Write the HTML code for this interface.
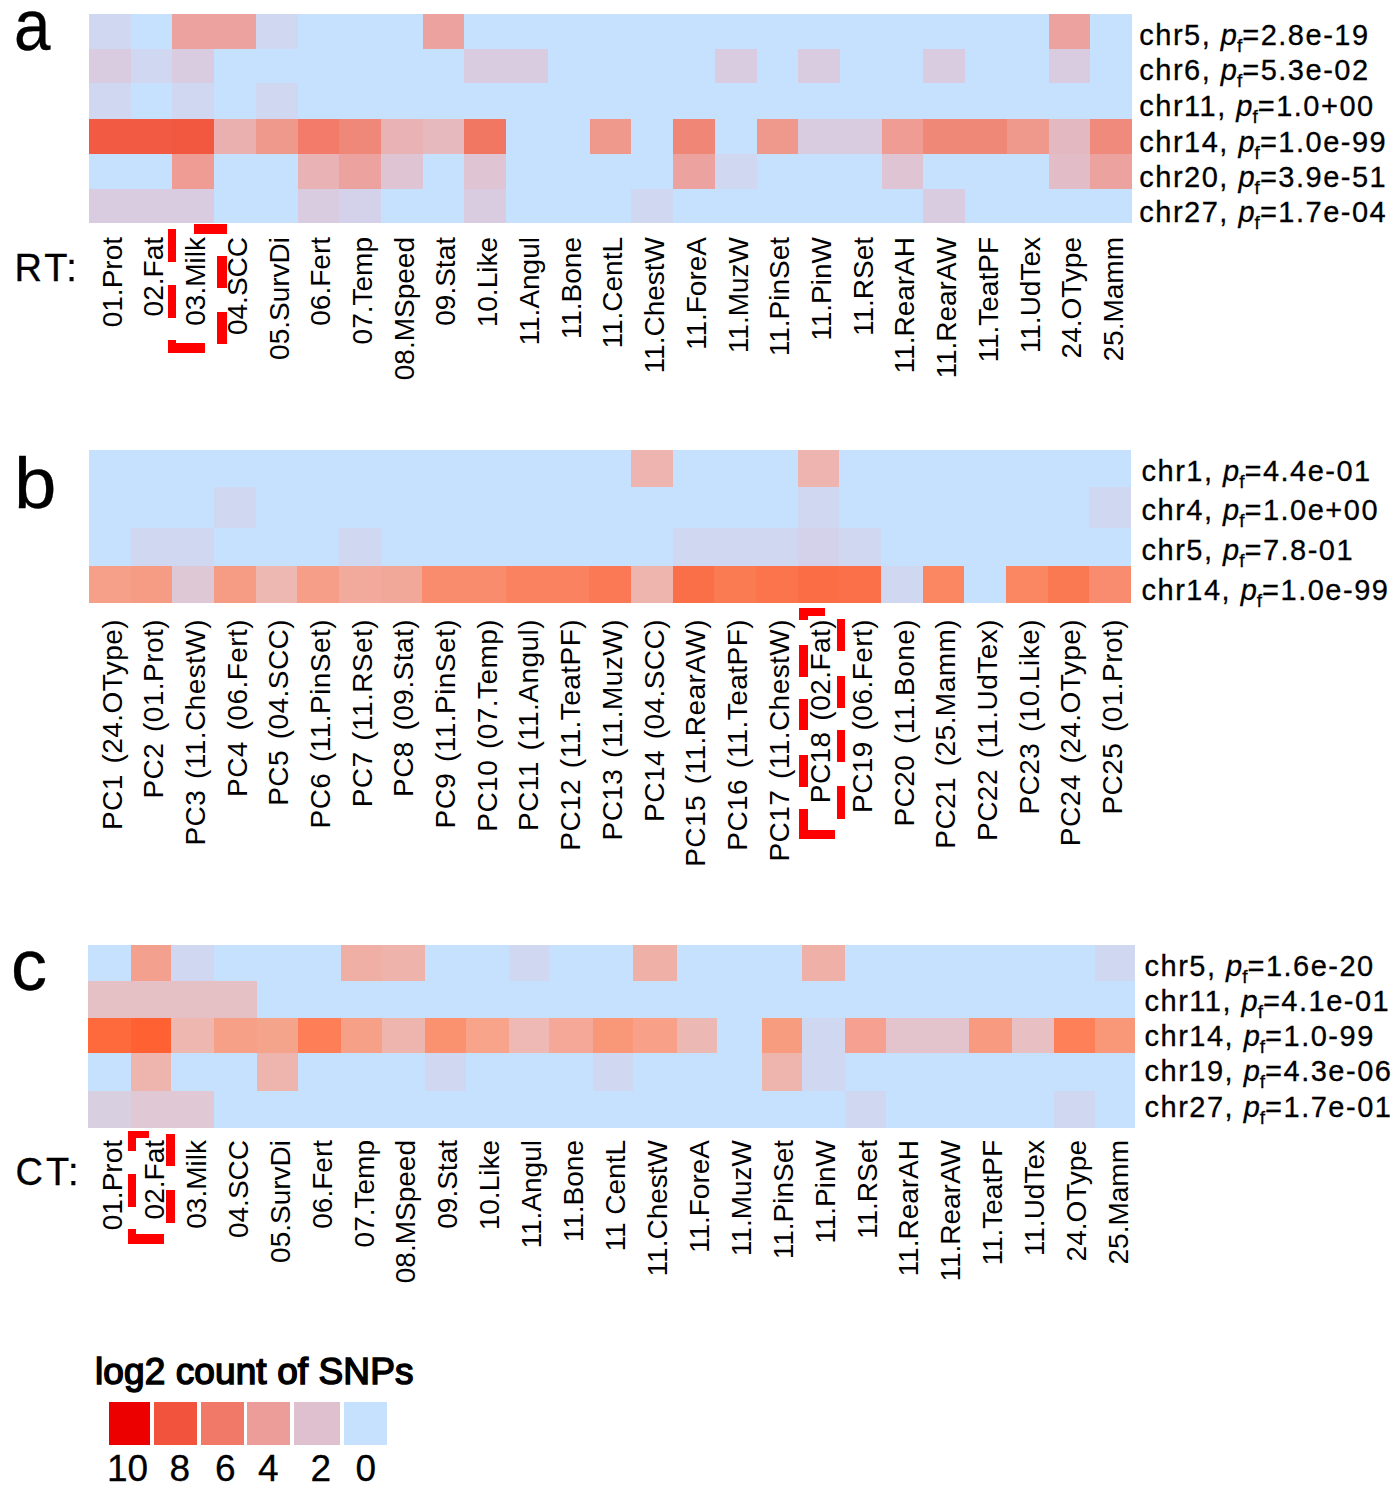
<!DOCTYPE html>
<html><head><meta charset="utf-8"><style>
html,body{margin:0;padding:0;background:#fff;}
body{width:1395px;height:1491px;position:relative;overflow:hidden;font-family:"Liberation Sans",sans-serif;color:#000;}
.c{position:absolute;}
.r,.lab,.ln{-webkit-text-stroke:0.3px #000;}
.big{-webkit-text-stroke:0.3px #000;}
.d{position:absolute;background:#FF0000;}
.v{position:absolute;width:400px;height:28px;line-height:28px;font-size:28px;text-align:right;white-space:nowrap;transform-origin:0 0;transform:rotate(-90deg);}
.r{position:absolute;font-size:29px;line-height:32px;white-space:nowrap;letter-spacing:1.5px;}
.r i{font-style:italic;letter-spacing:0;}
.r .s{font-size:19px;position:relative;top:7px;letter-spacing:0;}
.vb{letter-spacing:0.45px;word-spacing:2.5px;}
.big{position:absolute;font-size:72px;line-height:72px;}
.lab{position:absolute;font-size:38px;line-height:38px;letter-spacing:3px;}
.lt{position:absolute;font-size:37px;line-height:37px;font-weight:normal;-webkit-text-stroke:1.5px #000;letter-spacing:0.1px;}
.ln{position:absolute;font-size:37px;line-height:37px;}
</style></head><body>
<div class="big" style="left:14px;top:-11px;transform:scaleX(0.91);transform-origin:0 0">a</div>
<div class="big" style="left:13.8px;top:447px;transform:scaleX(1.06);transform-origin:0 0">b</div>
<div class="big" style="left:11px;top:929px">c</div>
<div class="lab" style="left:14.5px;top:249px">RT:</div>
<div class="lab" style="left:15.5px;top:1152.5px">CT:</div>
<div class="c" style="left:89px;top:14px;width:1043px;height:209px;background:#C5E1FD"></div>
<div class="c" style="left:89px;top:14px;width:42px;height:35px;background:#CFD7F1"></div>
<div class="c" style="left:172px;top:14px;width:42px;height:35px;background:#ECA3A0"></div>
<div class="c" style="left:214px;top:14px;width:42px;height:35px;background:#ECA3A0"></div>
<div class="c" style="left:256px;top:14px;width:42px;height:35px;background:#CFD7F1"></div>
<div class="c" style="left:423px;top:14px;width:41px;height:35px;background:#ECA3A0"></div>
<div class="c" style="left:1049px;top:14px;width:41px;height:35px;background:#ECA3A0"></div>
<div class="c" style="left:89px;top:49px;width:42px;height:34px;background:#D9CCE0"></div>
<div class="c" style="left:131px;top:49px;width:41px;height:34px;background:#CFD7F1"></div>
<div class="c" style="left:172px;top:49px;width:42px;height:34px;background:#D9CCE0"></div>
<div class="c" style="left:464px;top:49px;width:42px;height:34px;background:#D9CCE0"></div>
<div class="c" style="left:506px;top:49px;width:42px;height:34px;background:#D9CCE0"></div>
<div class="c" style="left:715px;top:49px;width:42px;height:34px;background:#D9CCE0"></div>
<div class="c" style="left:798px;top:49px;width:42px;height:34px;background:#D9CCE0"></div>
<div class="c" style="left:923px;top:49px;width:42px;height:34px;background:#D9CCE0"></div>
<div class="c" style="left:1049px;top:49px;width:41px;height:34px;background:#D9CCE0"></div>
<div class="c" style="left:89px;top:83px;width:42px;height:36px;background:#CFD7F1"></div>
<div class="c" style="left:172px;top:83px;width:42px;height:36px;background:#CFD7F1"></div>
<div class="c" style="left:256px;top:83px;width:42px;height:36px;background:#CFD7F1"></div>
<div class="c" style="left:89px;top:119px;width:42px;height:35px;background:#F25A44"></div>
<div class="c" style="left:131px;top:119px;width:41px;height:35px;background:#F25A44"></div>
<div class="c" style="left:172px;top:119px;width:42px;height:35px;background:#F25740"></div>
<div class="c" style="left:214px;top:119px;width:42px;height:35px;background:#EAB0B0"></div>
<div class="c" style="left:256px;top:119px;width:42px;height:35px;background:#EF998D"></div>
<div class="c" style="left:298px;top:119px;width:41px;height:35px;background:#F27B6A"></div>
<div class="c" style="left:339px;top:119px;width:42px;height:35px;background:#F0887A"></div>
<div class="c" style="left:381px;top:119px;width:42px;height:35px;background:#E9B2B4"></div>
<div class="c" style="left:423px;top:119px;width:41px;height:35px;background:#E6B9BF"></div>
<div class="c" style="left:464px;top:119px;width:42px;height:35px;background:#F27763"></div>
<div class="c" style="left:590px;top:119px;width:41px;height:35px;background:#EF998D"></div>
<div class="c" style="left:673px;top:119px;width:42px;height:35px;background:#F08676"></div>
<div class="c" style="left:757px;top:119px;width:41px;height:35px;background:#EF998D"></div>
<div class="c" style="left:798px;top:119px;width:42px;height:35px;background:#D9CCE0"></div>
<div class="c" style="left:840px;top:119px;width:42px;height:35px;background:#D9CCE0"></div>
<div class="c" style="left:882px;top:119px;width:41px;height:35px;background:#EE9C94"></div>
<div class="c" style="left:923px;top:119px;width:42px;height:35px;background:#F08878"></div>
<div class="c" style="left:965px;top:119px;width:42px;height:35px;background:#F08878"></div>
<div class="c" style="left:1007px;top:119px;width:42px;height:35px;background:#EF998D"></div>
<div class="c" style="left:1049px;top:119px;width:41px;height:35px;background:#E4B8C0"></div>
<div class="c" style="left:1090px;top:119px;width:42px;height:35px;background:#F08A7C"></div>
<div class="c" style="left:172px;top:154px;width:42px;height:35px;background:#EE9C94"></div>
<div class="c" style="left:298px;top:154px;width:41px;height:35px;background:#E9B2B4"></div>
<div class="c" style="left:339px;top:154px;width:42px;height:35px;background:#ECA3A0"></div>
<div class="c" style="left:381px;top:154px;width:42px;height:35px;background:#DFC4D3"></div>
<div class="c" style="left:464px;top:154px;width:42px;height:35px;background:#DFC4D3"></div>
<div class="c" style="left:673px;top:154px;width:42px;height:35px;background:#ECA3A0"></div>
<div class="c" style="left:715px;top:154px;width:42px;height:35px;background:#CFD7F1"></div>
<div class="c" style="left:882px;top:154px;width:41px;height:35px;background:#DFC4D3"></div>
<div class="c" style="left:1049px;top:154px;width:41px;height:35px;background:#E2BCC6"></div>
<div class="c" style="left:1090px;top:154px;width:42px;height:35px;background:#ECA3A0"></div>
<div class="c" style="left:89px;top:189px;width:42px;height:34px;background:#D9CCE0"></div>
<div class="c" style="left:131px;top:189px;width:41px;height:34px;background:#D9CCE0"></div>
<div class="c" style="left:172px;top:189px;width:42px;height:34px;background:#D9CCE0"></div>
<div class="c" style="left:298px;top:189px;width:41px;height:34px;background:#D9CCE0"></div>
<div class="c" style="left:339px;top:189px;width:42px;height:34px;background:#D4D1EA"></div>
<div class="c" style="left:464px;top:189px;width:42px;height:34px;background:#D9CCE0"></div>
<div class="c" style="left:631px;top:189px;width:42px;height:34px;background:#CFD7F1"></div>
<div class="c" style="left:923px;top:189px;width:42px;height:34px;background:#D9CCE0"></div>
<div class="c" style="left:89px;top:450px;width:1042px;height:153px;background:#C5E1FD"></div>
<div class="c" style="left:631px;top:450px;width:42px;height:37px;background:#EDB4B0"></div>
<div class="c" style="left:798px;top:450px;width:41px;height:37px;background:#EDB4B0"></div>
<div class="c" style="left:214px;top:487px;width:42px;height:41px;background:#CFD7F1"></div>
<div class="c" style="left:798px;top:487px;width:41px;height:41px;background:#CFD7F1"></div>
<div class="c" style="left:1089px;top:487px;width:42px;height:41px;background:#CFD7F1"></div>
<div class="c" style="left:131px;top:528px;width:41px;height:38px;background:#CFD7F1"></div>
<div class="c" style="left:172px;top:528px;width:42px;height:38px;background:#CFD7F1"></div>
<div class="c" style="left:339px;top:528px;width:42px;height:38px;background:#CFD7F1"></div>
<div class="c" style="left:673px;top:528px;width:41px;height:38px;background:#CFD7F1"></div>
<div class="c" style="left:714px;top:528px;width:42px;height:38px;background:#CFD7F1"></div>
<div class="c" style="left:756px;top:528px;width:42px;height:38px;background:#CFD7F1"></div>
<div class="c" style="left:798px;top:528px;width:41px;height:38px;background:#D4D1EA"></div>
<div class="c" style="left:839px;top:528px;width:42px;height:38px;background:#CFD7F1"></div>
<div class="c" style="left:89px;top:566px;width:42px;height:37px;background:#F6A08A"></div>
<div class="c" style="left:131px;top:566px;width:41px;height:37px;background:#F69C84"></div>
<div class="c" style="left:172px;top:566px;width:42px;height:37px;background:#DEC8D6"></div>
<div class="c" style="left:214px;top:566px;width:42px;height:37px;background:#F79C84"></div>
<div class="c" style="left:256px;top:566px;width:41px;height:37px;background:#EEB8B2"></div>
<div class="c" style="left:297px;top:566px;width:42px;height:37px;background:#F69E88"></div>
<div class="c" style="left:339px;top:566px;width:42px;height:37px;background:#F2AA9C"></div>
<div class="c" style="left:381px;top:566px;width:41px;height:37px;background:#F2A898"></div>
<div class="c" style="left:422px;top:566px;width:42px;height:37px;background:#F98C6C"></div>
<div class="c" style="left:464px;top:566px;width:42px;height:37px;background:#F98C6C"></div>
<div class="c" style="left:506px;top:566px;width:41px;height:37px;background:#FA8260"></div>
<div class="c" style="left:547px;top:566px;width:42px;height:37px;background:#FA8260"></div>
<div class="c" style="left:589px;top:566px;width:42px;height:37px;background:#FB7A55"></div>
<div class="c" style="left:631px;top:566px;width:42px;height:37px;background:#EEB4AE"></div>
<div class="c" style="left:673px;top:566px;width:41px;height:37px;background:#FB6F48"></div>
<div class="c" style="left:714px;top:566px;width:42px;height:37px;background:#FA7A52"></div>
<div class="c" style="left:756px;top:566px;width:42px;height:37px;background:#FB744C"></div>
<div class="c" style="left:798px;top:566px;width:41px;height:37px;background:#FB6E45"></div>
<div class="c" style="left:839px;top:566px;width:42px;height:37px;background:#FB7048"></div>
<div class="c" style="left:881px;top:566px;width:42px;height:37px;background:#CFD7F1"></div>
<div class="c" style="left:923px;top:566px;width:41px;height:37px;background:#FA8662"></div>
<div class="c" style="left:1006px;top:566px;width:42px;height:37px;background:#FA8662"></div>
<div class="c" style="left:1048px;top:566px;width:41px;height:37px;background:#FA7852"></div>
<div class="c" style="left:1089px;top:566px;width:42px;height:37px;background:#F98C6E"></div>
<div class="c" style="left:88px;top:945px;width:1047px;height:183px;background:#C5E1FD"></div>
<div class="c" style="left:131px;top:945px;width:40px;height:36px;background:#F3A08E"></div>
<div class="c" style="left:171px;top:945px;width:43px;height:36px;background:#CFD7F1"></div>
<div class="c" style="left:341px;top:945px;width:41px;height:36px;background:#EFAFA5"></div>
<div class="c" style="left:382px;top:945px;width:43px;height:36px;background:#EEB3AB"></div>
<div class="c" style="left:509px;top:945px;width:40px;height:36px;background:#CFD7F1"></div>
<div class="c" style="left:633px;top:945px;width:44px;height:36px;background:#EFB0A8"></div>
<div class="c" style="left:802px;top:945px;width:43px;height:36px;background:#EFB0A8"></div>
<div class="c" style="left:1095px;top:945px;width:40px;height:36px;background:#CFD7F1"></div>
<div class="c" style="left:88px;top:981px;width:43px;height:37px;background:#E5C0C4"></div>
<div class="c" style="left:131px;top:981px;width:40px;height:37px;background:#E5C0C4"></div>
<div class="c" style="left:171px;top:981px;width:43px;height:37px;background:#E5C0C4"></div>
<div class="c" style="left:214px;top:981px;width:43px;height:37px;background:#E5C0C4"></div>
<div class="c" style="left:88px;top:1018px;width:43px;height:35px;background:#FF6A3C"></div>
<div class="c" style="left:131px;top:1018px;width:40px;height:35px;background:#FF6132"></div>
<div class="c" style="left:171px;top:1018px;width:43px;height:35px;background:#EEB8B0"></div>
<div class="c" style="left:214px;top:1018px;width:43px;height:35px;background:#F7A088"></div>
<div class="c" style="left:257px;top:1018px;width:41px;height:35px;background:#F5A48C"></div>
<div class="c" style="left:298px;top:1018px;width:43px;height:35px;background:#FE7E58"></div>
<div class="c" style="left:341px;top:1018px;width:41px;height:35px;background:#F7A088"></div>
<div class="c" style="left:382px;top:1018px;width:43px;height:35px;background:#EEB4AE"></div>
<div class="c" style="left:425px;top:1018px;width:41px;height:35px;background:#FA9270"></div>
<div class="c" style="left:466px;top:1018px;width:43px;height:35px;background:#F8A48A"></div>
<div class="c" style="left:509px;top:1018px;width:40px;height:35px;background:#EEB8B4"></div>
<div class="c" style="left:549px;top:1018px;width:44px;height:35px;background:#F5A898"></div>
<div class="c" style="left:593px;top:1018px;width:40px;height:35px;background:#F89878"></div>
<div class="c" style="left:633px;top:1018px;width:44px;height:35px;background:#F8A088"></div>
<div class="c" style="left:677px;top:1018px;width:40px;height:35px;background:#ECB8B4"></div>
<div class="c" style="left:762px;top:1018px;width:40px;height:35px;background:#F89C80"></div>
<div class="c" style="left:802px;top:1018px;width:43px;height:35px;background:#CFD7F1"></div>
<div class="c" style="left:845px;top:1018px;width:41px;height:35px;background:#F5A090"></div>
<div class="c" style="left:886px;top:1018px;width:43px;height:35px;background:#E4C4CC"></div>
<div class="c" style="left:929px;top:1018px;width:40px;height:35px;background:#E4C4CC"></div>
<div class="c" style="left:969px;top:1018px;width:43px;height:35px;background:#F89A80"></div>
<div class="c" style="left:1012px;top:1018px;width:42px;height:35px;background:#E8C0C4"></div>
<div class="c" style="left:1054px;top:1018px;width:41px;height:35px;background:#FE8058"></div>
<div class="c" style="left:1095px;top:1018px;width:40px;height:35px;background:#F89878"></div>
<div class="c" style="left:131px;top:1053px;width:40px;height:38px;background:#EEB4AE"></div>
<div class="c" style="left:257px;top:1053px;width:41px;height:38px;background:#EEB4AE"></div>
<div class="c" style="left:425px;top:1053px;width:41px;height:38px;background:#CFD7F1"></div>
<div class="c" style="left:593px;top:1053px;width:40px;height:38px;background:#CFD7F1"></div>
<div class="c" style="left:762px;top:1053px;width:40px;height:38px;background:#EEB4AE"></div>
<div class="c" style="left:802px;top:1053px;width:43px;height:38px;background:#CFD7F1"></div>
<div class="c" style="left:88px;top:1091px;width:43px;height:37px;background:#D8D0E0"></div>
<div class="c" style="left:131px;top:1091px;width:40px;height:37px;background:#E0C8D4"></div>
<div class="c" style="left:171px;top:1091px;width:43px;height:37px;background:#E0C8D4"></div>
<div class="c" style="left:845px;top:1091px;width:41px;height:37px;background:#CFD7F1"></div>
<div class="c" style="left:1054px;top:1091px;width:41px;height:37px;background:#CFD7F1"></div>
<div class="v" style="left:98.7px;top:636.5px">01.Prot</div>
<div class="v" style="left:140.4px;top:636.5px">02.Fat</div>
<div class="v" style="left:182.1px;top:636.5px">03.Milk</div>
<div class="v" style="left:223.8px;top:636.5px">04.SCC</div>
<div class="v" style="left:265.5px;top:636.5px">05.SurvDi</div>
<div class="v" style="left:307.3px;top:636.5px">06.Fert</div>
<div class="v" style="left:349.0px;top:636.5px">07.Temp</div>
<div class="v" style="left:390.7px;top:636.5px">08.MSpeed</div>
<div class="v" style="left:432.4px;top:636.5px">09.Stat</div>
<div class="v" style="left:474.1px;top:636.5px">10.Like</div>
<div class="v" style="left:515.9px;top:636.5px">11.Angul</div>
<div class="v" style="left:557.6px;top:636.5px">11.Bone</div>
<div class="v" style="left:599.3px;top:636.5px">11.CentL</div>
<div class="v" style="left:641.0px;top:636.5px">11.ChestW</div>
<div class="v" style="left:682.7px;top:636.5px">11.ForeA</div>
<div class="v" style="left:724.5px;top:636.5px">11.MuzW</div>
<div class="v" style="left:766.2px;top:636.5px">11.PinSet</div>
<div class="v" style="left:807.9px;top:636.5px">11.PinW</div>
<div class="v" style="left:849.6px;top:636.5px">11.RSet</div>
<div class="v" style="left:891.3px;top:636.5px">11.RearAH</div>
<div class="v" style="left:933.1px;top:636.5px">11.RearAW</div>
<div class="v" style="left:974.8px;top:636.5px">11.TeatPF</div>
<div class="v" style="left:1016.5px;top:636.5px">11.UdTex</div>
<div class="v" style="left:1058.2px;top:636.5px">24.OType</div>
<div class="v" style="left:1099.9px;top:636.5px">25.Mamm</div>
<div class="v vb" style="left:98.6px;top:1019.0px">PC1 (24.OType)</div>
<div class="v vb" style="left:140.3px;top:1019.0px">PC2 (01.Prot)</div>
<div class="v vb" style="left:182.0px;top:1019.0px">PC3 (11.ChestW)</div>
<div class="v vb" style="left:223.7px;top:1019.0px">PC4 (06.Fert)</div>
<div class="v vb" style="left:265.4px;top:1019.0px">PC5 (04.SCC)</div>
<div class="v vb" style="left:307.0px;top:1019.0px">PC6 (11.PinSet)</div>
<div class="v vb" style="left:348.7px;top:1019.0px">PC7 (11.RSet)</div>
<div class="v vb" style="left:390.4px;top:1019.0px">PC8 (09.Stat)</div>
<div class="v vb" style="left:432.1px;top:1019.0px">PC9 (11.PinSet)</div>
<div class="v vb" style="left:473.8px;top:1019.0px">PC10 (07.Temp)</div>
<div class="v vb" style="left:515.4px;top:1019.0px">PC11 (11.Angul)</div>
<div class="v vb" style="left:557.1px;top:1019.0px">PC12 (11.TeatPF)</div>
<div class="v vb" style="left:598.8px;top:1019.0px">PC13 (11.MuzW)</div>
<div class="v vb" style="left:640.5px;top:1019.0px">PC14 (04.SCC)</div>
<div class="v vb" style="left:682.2px;top:1019.0px">PC15 (11.RearAW)</div>
<div class="v vb" style="left:723.8px;top:1019.0px">PC16 (11.TeatPF)</div>
<div class="v vb" style="left:765.5px;top:1019.0px">PC17 (11.ChestW)</div>
<div class="v vb" style="left:807.2px;top:1019.0px">PC18 (02.Fat)</div>
<div class="v vb" style="left:848.9px;top:1019.0px">PC19 (06.Fert)</div>
<div class="v vb" style="left:890.6px;top:1019.0px">PC20 (11.Bone)</div>
<div class="v vb" style="left:932.2px;top:1019.0px">PC21 (25.Mamm)</div>
<div class="v vb" style="left:973.9px;top:1019.0px">PC22 (11.UdTex)</div>
<div class="v vb" style="left:1015.6px;top:1019.0px">PC23 (10.Like)</div>
<div class="v vb" style="left:1057.3px;top:1019.0px">PC24 (24.OType)</div>
<div class="v vb" style="left:1099.0px;top:1019.0px">PC25 (01.Prot)</div>
<div class="v" style="left:99.0px;top:1539.5px">01.Prot</div>
<div class="v" style="left:140.9px;top:1539.5px">02.Fat</div>
<div class="v" style="left:182.8px;top:1539.5px">03.Milk</div>
<div class="v" style="left:224.7px;top:1539.5px">04.SCC</div>
<div class="v" style="left:266.6px;top:1539.5px">05.SurvDi</div>
<div class="v" style="left:308.6px;top:1539.5px">06.Fert</div>
<div class="v" style="left:350.5px;top:1539.5px">07.Temp</div>
<div class="v" style="left:392.4px;top:1539.5px">08.MSpeed</div>
<div class="v" style="left:434.3px;top:1539.5px">09.Stat</div>
<div class="v" style="left:476.2px;top:1539.5px">10.Like</div>
<div class="v" style="left:518.2px;top:1539.5px">11.Angul</div>
<div class="v" style="left:560.1px;top:1539.5px">11.Bone</div>
<div class="v" style="left:602.0px;top:1539.5px">11 CentL</div>
<div class="v" style="left:643.9px;top:1539.5px">11.ChestW</div>
<div class="v" style="left:685.8px;top:1539.5px">11.ForeA</div>
<div class="v" style="left:727.8px;top:1539.5px">11.MuzW</div>
<div class="v" style="left:769.7px;top:1539.5px">11.PinSet</div>
<div class="v" style="left:811.6px;top:1539.5px">11.PinW</div>
<div class="v" style="left:853.5px;top:1539.5px">11.RSet</div>
<div class="v" style="left:895.4px;top:1539.5px">11.RearAH</div>
<div class="v" style="left:937.4px;top:1539.5px">11.RearAW</div>
<div class="v" style="left:979.3px;top:1539.5px">11.TeatPF</div>
<div class="v" style="left:1021.2px;top:1539.5px">11.UdTex</div>
<div class="v" style="left:1063.1px;top:1539.5px">24.OType</div>
<div class="v" style="left:1105.0px;top:1539.5px">25.Mamm</div>
<div class="r" style="left:1139.3px;top:19.3px">chr5, <i>p</i><span class="s">f</span>=2.8e-19</div>
<div class="r" style="left:1139.3px;top:54.4px">chr6, <i>p</i><span class="s">f</span>=5.3e-02</div>
<div class="r" style="left:1139.3px;top:90.4px">chr11, <i>p</i><span class="s">f</span>=1.0+00</div>
<div class="r" style="left:1139.3px;top:126.0px">chr14, <i>p</i><span class="s">f</span>=1.0e-99</div>
<div class="r" style="left:1139.3px;top:160.6px">chr20, <i>p</i><span class="s">f</span>=3.9e-51</div>
<div class="r" style="left:1139.3px;top:195.6px">chr27, <i>p</i><span class="s">f</span>=1.7e-04</div>
<div class="r" style="left:1141.5px;top:455.1px">chr1, <i>p</i><span class="s">f</span>=4.4e-01</div>
<div class="r" style="left:1141.5px;top:493.5px">chr4, <i>p</i><span class="s">f</span>=1.0e+00</div>
<div class="r" style="left:1141.5px;top:533.7px">chr5, <i>p</i><span class="s">f</span>=7.8-01</div>
<div class="r" style="left:1141.5px;top:573.7px">chr14, <i>p</i><span class="s">f</span>=1.0e-99</div>
<div class="r" style="left:1144.5px;top:950.4px">chr5, <i>p</i><span class="s">f</span>=1.6e-20</div>
<div class="r" style="left:1144.5px;top:985.0px">chr11, <i>p</i><span class="s">f</span>=4.1e-01</div>
<div class="r" style="left:1144.5px;top:1020.2px">chr14, <i>p</i><span class="s">f</span>=1.0-99</div>
<div class="r" style="left:1144.5px;top:1055.1px">chr19, <i>p</i><span class="s">f</span>=4.3e-06</div>
<div class="r" style="left:1144.5px;top:1091.0px">chr27, <i>p</i><span class="s">f</span>=1.7e-01</div>
<div class="d" style="left:168px;top:229px;width:8px;height:33px"></div>
<div class="d" style="left:168px;top:285px;width:8px;height:33px"></div>
<div class="d" style="left:168px;top:340px;width:8px;height:13px"></div>
<div class="d" style="left:168px;top:343px;width:37px;height:10px"></div>
<div class="d" style="left:194px;top:224px;width:33px;height:10px"></div>
<div class="d" style="left:217px;top:224px;width:10px;height:10px"></div>
<div class="d" style="left:217px;top:256px;width:10px;height:32px"></div>
<div class="d" style="left:217px;top:312px;width:10px;height:32px"></div>
<div class="d" style="left:799px;top:608px;width:26px;height:8px"></div>
<div class="d" style="left:799px;top:608px;width:9px;height:12px"></div>
<div class="d" style="left:799px;top:645px;width:9px;height:32px"></div>
<div class="d" style="left:799px;top:699px;width:9px;height:31px"></div>
<div class="d" style="left:799px;top:755px;width:9px;height:32px"></div>
<div class="d" style="left:799px;top:809px;width:9px;height:30px"></div>
<div class="d" style="left:799px;top:830px;width:36px;height:9px"></div>
<div class="d" style="left:837px;top:619px;width:8px;height:32px"></div>
<div class="d" style="left:837px;top:676px;width:8px;height:32px"></div>
<div class="d" style="left:837px;top:730px;width:8px;height:32px"></div>
<div class="d" style="left:837px;top:786px;width:8px;height:33px"></div>
<div class="d" style="left:128px;top:1131px;width:21px;height:7px"></div>
<div class="d" style="left:128px;top:1131px;width:8px;height:20px"></div>
<div class="d" style="left:128px;top:1174px;width:8px;height:33px"></div>
<div class="d" style="left:128px;top:1229px;width:8px;height:15px"></div>
<div class="d" style="left:128px;top:1234px;width:36px;height:10px"></div>
<div class="d" style="left:166px;top:1134px;width:9px;height:32px"></div>
<div class="d" style="left:166px;top:1190px;width:9px;height:33px"></div>
<div class="lt" style="left:95px;top:1353px">log2 count of SNPs</div>
<div class="c" style="left:109px;top:1402px;width:41px;height:43px;background:#EC0000"></div><div class="c" style="left:154px;top:1402px;width:43px;height:43px;background:#F1533D"></div><div class="c" style="left:201px;top:1402px;width:43px;height:43px;background:#F17968"></div><div class="c" style="left:247px;top:1402px;width:43px;height:43px;background:#EC9D99"></div><div class="c" style="left:294px;top:1402px;width:46px;height:43px;background:#DEC0CE"></div><div class="c" style="left:344px;top:1402px;width:43px;height:43px;background:#C5E1FD"></div>
<div class="ln" style="left:107px;top:1450px">10</div>
<div class="ln" style="left:169.5px;top:1450px">8</div>
<div class="ln" style="left:215px;top:1450px">6</div>
<div class="ln" style="left:258px;top:1450px">4</div>
<div class="ln" style="left:310.5px;top:1450px">2</div>
<div class="ln" style="left:355.5px;top:1450px">0</div>
</body></html>
